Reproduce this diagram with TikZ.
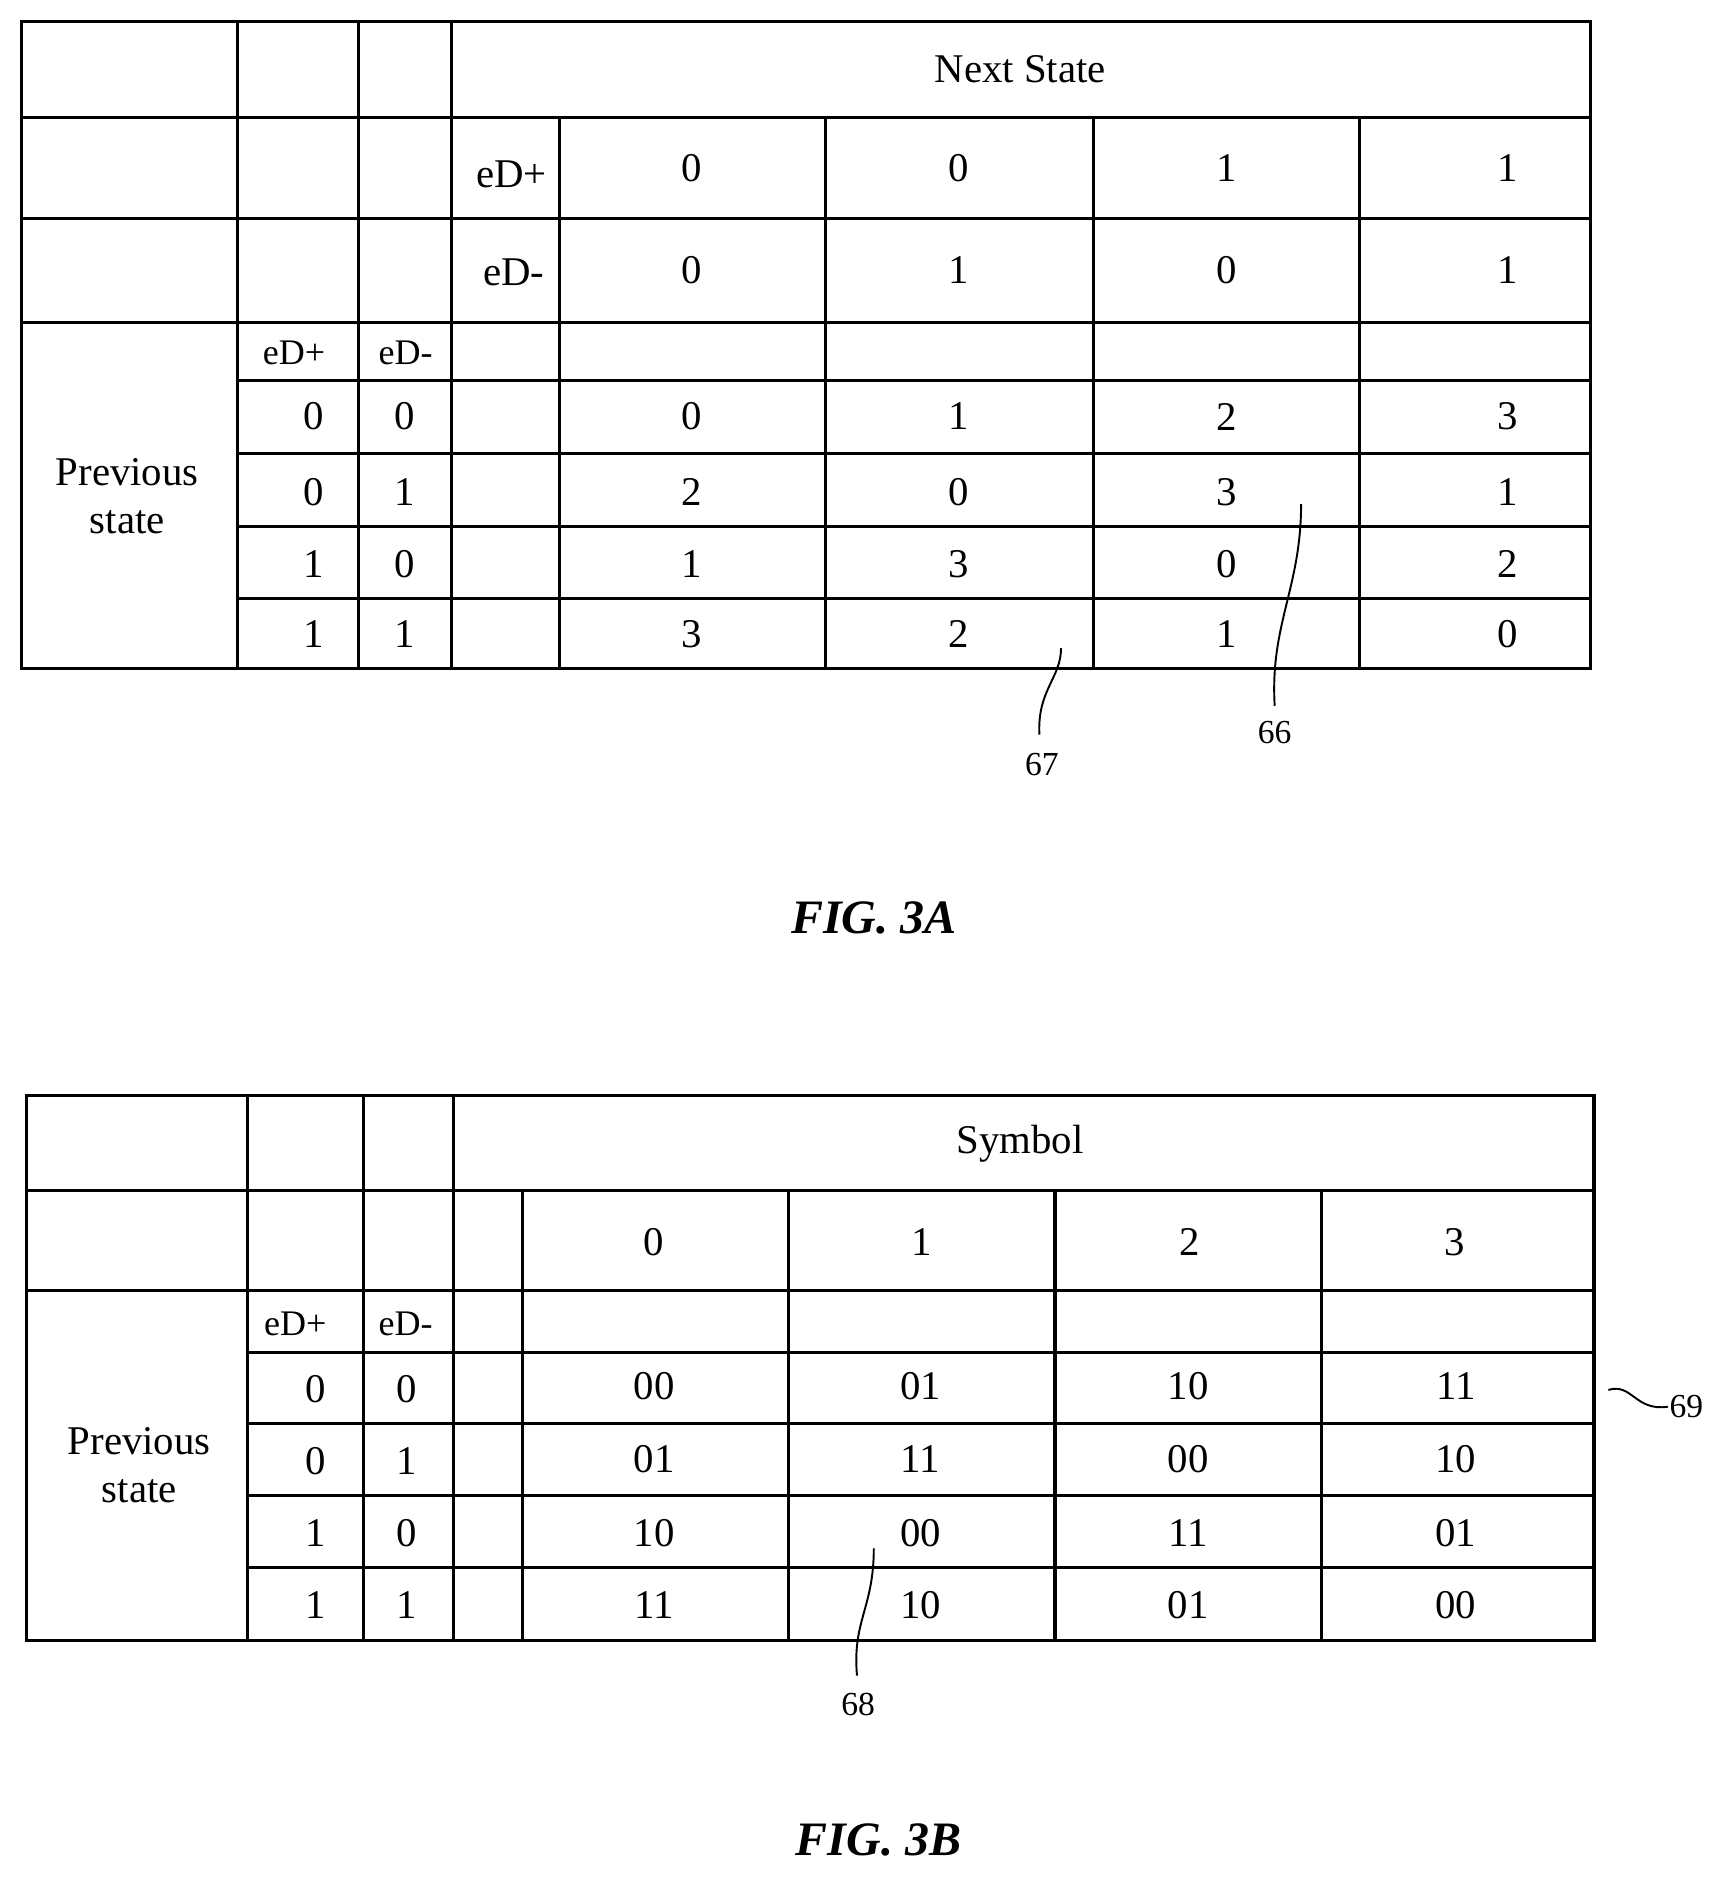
\documentclass[tikz,border=0pt]{standalone}
\usepackage{fontspec}
\setmainfont{Liberation Serif}
\begin{document}
\begin{tikzpicture}[x=1pt,y=-1pt,line width=2.6pt,
  t/.style={font=\fontsize{34}{40}\selectfont,inner sep=0pt},
  s/.style={font=\fontsize{30}{36}\selectfont,inner sep=0pt},
  lab/.style={font=\fontsize{28}{32}\selectfont,inner sep=0pt},
  fig/.style={font=\fontsize{40}{46}\selectfont\bfseries\itshape,inner sep=0pt},
  lead/.style={line width=1.6pt}]
\useasboundingbox (0,0) rectangle (1440,1573);
% ---------- Table A
\draw (18,18) rectangle (1325,557);
\foreach \x in {198,299,376} \draw (\x,18) -- (\x,557);
\foreach \x in {466,688,911,1133} \draw (\x,98) -- (\x,557);
\foreach \y in {98,182,269} \draw (18,\y) -- (1325,\y);
\foreach \y in {317,378,439,499} \draw (198,\y) -- (1325,\y);
\node[t] (ns) at (850,58) {Next State};
\node[t] (ap) at (426,145) {eD+};
\node[t] (am) at (428,227) {eD-};
\foreach \v/\x in {0/576,0/799,1/1022,1/1256} \node[t] at (\x,140) {\v};
\foreach \v/\x in {0/576,1/799,0/1022,1/1256} \node[t] at (\x,225) {\v};
\node[s] (pp) at (245,294) {eD+};
\node[s] (pm) at (338,294) {eD-};
\node[t,align=center] (prevA) at (106,413) {Previous\\state};
\foreach \a/\b/\y in {0/0/347,0/1/410,1/0/470,1/1/528}
  {\node[t] at (261,\y) {\a}; \node[t] at (337,\y) {\b};}
\foreach \p/\q/\r/\s/\y in {0/1/2/3/347,2/0/3/1/410,1/3/0/2/470,3/2/1/0/528}
  {\node[t] at (576,\y) {\p}; \node[t] at (799,\y) {\q};
   \node[t] at (1022,\y) {\r}; \node[t] at (1256,\y) {\s};}
\coordinate (c67) at (884,540);
\node[lab] (l67) at (868,637) {67};
\draw[lead] (c67) .. controls (884,565) and (864,575) .. (866,612);
\coordinate (c66) at (1084,420);
\node[lab] (l66) at (1062,610) {66};
\draw[lead] (c66) .. controls (1084,490) and (1058,520) .. (1062,588);
\node[fig] (figA) at (728,765) {FIG. 3A};
% ---------- Table B
\draw (22,913) rectangle (1328,1367);
\foreach \x in {206,303,378} \draw (\x,913) -- (\x,1367);
\foreach \x in {435,657,879,1101} \draw (\x,992) -- (\x,1367);
\foreach \y in {992,1075} \draw (22,\y) -- (1328,\y);
\foreach \y in {1127,1186,1246,1306} \draw (206,\y) -- (1328,\y);
\node[t] (sym) at (850,953) {Symbol};
\foreach \v/\x in {0/545,1/768,2/991,3/1212} \node[t] at (\x,1035) {\v};
\node[s] (bp) at (246,1103) {eD+};
\node[s] (bm) at (338,1103) {eD-};
\node[t,align=center] (prevB) at (116,1221) {Previous\\state};
\foreach \a/\b/\y in {0/0/1157,0/1/1217,1/0/1277,1/1/1337}
  {\node[t] at (263,\y) {\a}; \node[t] at (339,\y) {\b};}
\foreach \p/\q/\r/\s/\y in {00/01/10/11/1155,01/11/00/10/1216,10/00/11/01/1277,11/10/01/00/1337}
  {\node[t] at (545,\y) {\p}; \node[t] at (767,\y) {\q};
   \node[t] at (990,\y) {\r}; \node[t] at (1213,\y) {\s};}
\coordinate (c68) at (728,1290);
\node[lab] (l68) at (715,1420) {68};
\draw[lead] (c68) .. controls (728,1340) and (710,1350) .. (714,1396);
\coordinate (c69) at (1340,1158);
\node[lab] (l69) at (1405,1172) {69};
\draw[lead] (c69) .. controls (1360,1152) and (1362,1176) .. (l69.west);
\node[fig] (figB) at (732,1533) {FIG. 3B};
\end{tikzpicture}
\end{document}
